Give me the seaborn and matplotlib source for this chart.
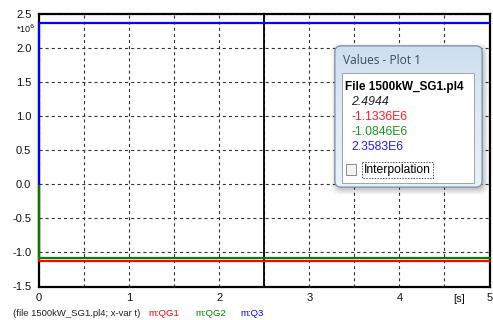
import numpy as np
import pandas as pd
import matplotlib
matplotlib.use("Agg")
import matplotlib.pyplot as plt
from matplotlib.patches import FancyBboxPatch, Rectangle
from matplotlib.ticker import FuncFormatter, MultipleLocator
import seaborn as sns

# Reactive power traces from the PL4 simulation file (switched on at t = 0)
time_s = [0.0, 0.0, 5.0]
qg1 = [0.0, -1.1336e6, -1.1336e6]
qg2 = [0.0, -1.0846e6, -1.0846e6]
q3 = [0.0, 2.3583e6, 2.3583e6]
signal_names = ["m:QG1", "m:QG2", "m:Q3"]
signal_colors = ["#ff0000", "#008000", "#0000ff"]
file_name = "1500kW_SG1.pl4"

# Cursor readout
cursor_time = 2.4944
cursor_values = [qg1[-1], qg2[-1], q3[-1]]

x_range = (0.0, 5.0)
y_range = (-1.5e6, 2.5e6)

sns.set_style("white")
plt.rcParams["font.family"] = ["Liberation Sans", "DejaVu Sans"]
plt.rcParams["lines.scale_dashes"] = False

W, H = 493, 320
fig = plt.figure(figsize=(W / 100, H / 100), dpi=100)
fig.patch.set_facecolor("white")
ax = fig.add_axes([39 / W, (H - 286.5) / H, 450.5 / W, 273 / H])
ax.set_facecolor("white")

df = pd.DataFrame({
    "t": time_s * 3,
    "q": qg1 + qg2 + q3,
    "signal": [n for n in signal_names for _ in time_s],
})
sns.lineplot(data=df, x="t", y="q", hue="signal",
             palette=dict(zip(signal_names, signal_colors)),
             estimator=None, sort=False, linewidth=1.6,
             legend=False, ax=ax)
# Traces sit on top of the frame so the switching edge at t = 0 stays visible
for ln in ax.lines:
    ln.set_clip_on(False)
    ln.set_zorder(4)
    ln.set_solid_joinstyle("miter")

ax.set_xlim(*x_range)
ax.set_ylim(*y_range)
ax.set_xlabel("")
ax.set_ylabel("")

ax.xaxis.set_major_locator(MultipleLocator(1))
ax.xaxis.set_minor_locator(MultipleLocator(0.5))
ax.yaxis.set_major_locator(MultipleLocator(0.5e6))
ax.xaxis.set_major_formatter(FuncFormatter(lambda v, _: f"{v:.0f}"))
ax.yaxis.set_major_formatter(FuncFormatter(lambda v, _: f"{v / 1e6:.1f}"))

dash = (0, (2.2, 2.2))
ax.grid(True, which="both", axis="x", color="#333333", linestyle=dash, linewidth=0.8)
ax.grid(True, which="major", axis="y", color="#333333", linestyle=dash, linewidth=0.8)
ax.set_axisbelow(True)

ax.axvline(cursor_time, color="black", linewidth=1.3, zorder=2)

for s in ax.spines.values():
    s.set_visible(True)
    s.set_color("black")
    s.set_linewidth(1.6)

ax.tick_params(axis="y", which="major", direction="out", length=3, width=1.3,
               color="black", labelsize=8, pad=2.5, labelcolor="#111111")
ax.tick_params(axis="x", which="both", direction="inout", length=5, width=1.3,
               color="black", labelsize=8, pad=2, labelcolor="#111111")

fig.text(16 / W, 1 - 29 / H, r"*10$^{6}$", fontsize=6.5, va="center", ha="left",
         color="#111111")
fig.text(459 / W, 1 - 299 / H, "[s]", fontsize=8, va="center", ha="center",
         color="#111111")

# Signal captions under the axes
fig.text(13 / W, 1 - 313 / H, f"(file {file_name}; x-var t)", fontsize=6.8,
         va="center", ha="left", color="#222222")
for name, color, xpx in zip(signal_names, signal_colors, [148, 195, 240]):
    fig.text(xpx / W, 1 - 313 / H, name, fontsize=6.8, va="center", ha="left",
             color=color)

# Cursor values window, drawn in pixel coordinates on top
ov = fig.add_axes([0, 0, 1, 1], zorder=10)
ov.set_xlim(0, W)
ov.set_ylim(H, 0)
ov.axis("off")
ov.patch.set_alpha(0)

bx0, by0, bx1, by1 = 335, 46, 482, 187
for i, a in enumerate([0.07, 0.06, 0.05, 0.04]):
    g = 1 + i * 1.5
    ov.add_patch(FancyBboxPatch((bx0 - g + 2, by0 - g + 3), bx1 - bx0 + 2 * g - 1,
                                by1 - by0 + 2 * g - 1,
                                boxstyle="round,pad=0,rounding_size=8",
                                facecolor="black", edgecolor="none", alpha=a))
frame = FancyBboxPatch((bx0, by0), bx1 - bx0, by1 - by0,
                       boxstyle="round,pad=0,rounding_size=6",
                       facecolor="#d8e6f4", edgecolor="#7f93aa", linewidth=0.8)
ov.add_patch(frame)
grad = np.linspace(0, 1, 64).reshape(-1, 1)
cmap = matplotlib.colors.LinearSegmentedColormap.from_list(
    "frame", ["#cfdff0", "#dfeaf6", "#e9f1f9"])
img = ov.imshow(grad, extent=(bx0, bx1, by1, by0), cmap=cmap, aspect="auto",
                zorder=1.5)
img.set_clip_path(frame)
ov.add_patch(FancyBboxPatch((bx0, by0), bx1 - bx0, by1 - by0,
                            boxstyle="round,pad=0,rounding_size=6",
                            facecolor="none", edgecolor="#7f93aa", linewidth=0.8,
                            zorder=2))
ov.set_xlim(0, W)
ov.set_ylim(H, 0)

ov.text(343, 60, "Values - Plot 1", fontsize=8.6, family=["Open Sans", "DejaVu Sans"],
        color="#3c4b5e", va="center", ha="left", zorder=3)
ov.add_patch(Rectangle((342, 73), 132, 110, facecolor="white", edgecolor="#9aa5b1",
                       linewidth=0.7, zorder=3))

ov.text(345, 87, f"File {file_name}", fontsize=8.5, fontweight="bold",
        color="black", va="center", ha="left", zorder=4)
ov.text(351, 102, f"{cursor_time:.4f}", fontsize=8.8, style="italic",
        color="#222222", va="center", ha="left", zorder=4)
readout_colors = ["#ff2020", "#1a9a1a", "#2020ff"]
for i, (v, c) in enumerate(zip(cursor_values, readout_colors)):
    ov.text(351, 117 + 15 * i, f"{v / 1e6:.4f}E6", fontsize=8.8, color=c,
            va="center", ha="left", zorder=4)

ov.add_patch(Rectangle((346, 164), 10, 11, facecolor="#f4f4f4", edgecolor="#8a8a8a",
                       linewidth=0.7, zorder=4))
ov.text(364, 170, "Interpolation", fontsize=8.7, color="black", va="center",
        ha="left", zorder=4)
ov.add_patch(Rectangle((362, 162), 71, 16, facecolor="none", edgecolor="#333333",
                       linewidth=0.6, linestyle=(0, (1, 1)), zorder=4))

fig.savefig("out.png", dpi=100)
